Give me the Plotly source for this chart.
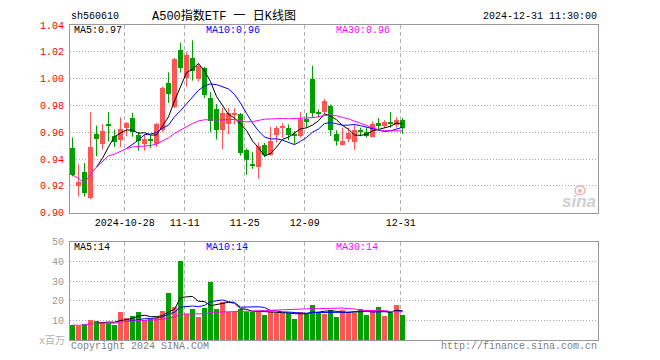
import numpy as np
import pandas as pd
import plotly.graph_objects as go

# ---------------- data ----------------
dates = [d.strftime("%Y-%m-%d") for d in pd.bdate_range("2024-10-15", "2024-12-31")]

open_ = [0.948, 0.920, 0.930, 0.911, 0.959, 0.951, 0.9658, 0.957, 0.9545, 0.963,
         0.9707, 0.9577, 0.951, 0.9545, 0.951, 0.962, 0.9965, 0.979, 1.0216, 1.0008,
         1.0157, 1.000, 1.0076, 0.9855, 0.9774, 0.9614, 0.9658, 0.9735, 0.9737, 0.9467,
         0.9355, 0.9339, 0.9508, 0.943, 0.958, 0.9634, 0.9628, 0.9577, 0.9575, 0.9698,
         0.9997, 0.9744, 0.9753, 0.9794, 0.9584, 0.9502, 0.9548, 0.9525, 0.9605, 0.9602,
         0.9565, 0.9666, 0.9646, 0.9672, 0.9652, 0.969]
high = [0.956, 0.936, 0.937, 0.975, 0.965, 0.966, 0.975, 0.962, 0.971, 0.9676,
        0.9744, 0.9602, 0.9585, 0.958, 0.967, 0.9941, 1.0047, 1.0155, 1.0268, 1.020,
        1.0285, 1.0118, 1.0088, 0.990, 0.981, 0.978, 0.978, 0.978, 0.9744, 0.9479,
        0.945, 0.9523, 0.952, 0.9641, 0.9646, 0.967, 0.9658, 0.961, 0.975, 0.9744,
        1.0096, 0.9769, 0.985, 0.9806, 0.9614, 0.9634, 0.9634, 0.9654, 0.9634, 0.9634,
        0.968, 0.9707, 0.969, 0.975, 0.9712, 0.9707]
low = [0.927, 0.912, 0.912, 0.910, 0.942, 0.947, 0.953, 0.949, 0.949, 0.957,
       0.9567, 0.9462, 0.9462, 0.948, 0.949, 0.960, 0.9818, 0.978, 1.0044, 0.994,
       0.9985, 0.9978, 0.9855, 0.960, 0.9545, 0.9474, 0.9584, 0.9658, 0.9425, 0.9282,
       0.9326, 0.9253, 0.9413, 0.9425, 0.9523, 0.956, 0.954, 0.951, 0.956, 0.9634,
       0.9707, 0.9707, 0.9732, 0.9573, 0.950, 0.950, 0.9526, 0.9467, 0.957, 0.956,
       0.956, 0.961, 0.9634, 0.9634, 0.9634, 0.9588]
close = [0.928, 0.923, 0.915, 0.949, 0.955, 0.961, 0.9652, 0.953, 0.9626, 0.9666,
         0.9602, 0.9536, 0.9553, 0.954, 0.9663, 0.9929, 0.9887, 1.015, 1.008, 1.0174,
         1.006, 1.0095, 0.988, 0.9683, 0.9614, 0.9747, 0.9744, 0.9744, 0.9442, 0.9393,
         0.9349, 0.9499, 0.943, 0.9531, 0.9634, 0.964, 0.9582, 0.9573, 0.9695, 0.9673,
         0.9744, 0.974, 0.9832, 0.9614, 0.9536, 0.9531, 0.9594, 0.962, 0.9602, 0.957,
         0.9665, 0.9646, 0.9673, 0.9667, 0.9692, 0.9632]
volume = [7.6, 7.3, 8.3, 10, 9.5, 9.3, 8.7, 7.9, 14.5, 11.4,
          12.5, 14.5, 10.3, 10.8, 11.5, 15, 24, 17, 40.5, 13.5,
          16, 11.6, 16.6, 29.7, 16, 19.3, 14.5, 14.3, 15.8, 14.3,
          14.2, 14.7, 13, 14.5, 13.7, 13.9, 14, 10.9, 14.5, 13.2,
          18, 14.4, 13.3, 15.5, 12, 15.5, 14.3, 14, 16, 13,
          14.5, 16.8, 12.5, 14.2, 18, 13]

tick_dates = ["2024-10-28", "2024-11-11", "2024-11-25", "2024-12-09", "2024-12-31"]
tick_labels = ["2024-10-28", "11-11", "11-25", "12-09", "12-31"]
price_ticks = [0.90, 0.92, 0.94, 0.96, 0.98, 1.00, 1.02, 1.04]
vol_ticks = [10, 20, 30, 40, 50]

# ---------------- derived ----------------
n = len(dates)
x = np.arange(n)
O = np.array(open_); H = np.array(high); L = np.array(low); C = np.array(close)
V = np.array(volume)
up = C >= O

cs = pd.Series(C)
ma5 = cs.rolling(5).mean()
ma10 = cs.rolling(10).mean()
ma30 = cs.rolling(30, min_periods=1).mean()
vs = pd.Series(V)
vma5 = vs.rolling(5).mean()
vma10 = vs.rolling(10).mean()
vma30 = vs.rolling(30, min_periods=1).mean()

RED = "#ff5555"
GREEN = "#00a000"

fig = go.Figure()

# wicks
for mask, col in ((up, RED), (~up, GREEN)):
    wx, wy = [], []
    for i in x[mask]:
        wx += [i, i, None]
        wy += [L[i], H[i], None]
    fig.add_trace(go.Scatter(x=wx, y=wy, mode="lines", line=dict(color=col, width=1),
                             hoverinfo="skip", xaxis="x", yaxis="y"))

# bodies
base = np.minimum(O, C)
height = np.maximum(np.abs(C - O), 0.0008)
for mask, col in ((up, RED), (~up, GREEN)):
    fig.add_trace(go.Bar(x=x[mask], y=height[mask], base=base[mask], width=0.83,
                         marker=dict(color=col, line=dict(width=0)),
                         xaxis="x", yaxis="y"))

# price MAs
for s, col in ((ma5, "#000000"), (ma10, "#0000ff"), (ma30, "#ff00ff")):
    fig.add_trace(go.Scatter(x=x, y=s, mode="lines", line=dict(color=col, width=1),
                             xaxis="x", yaxis="y"))

# volume bars
fig.add_trace(go.Bar(x=x, y=V, width=0.83,
                     marker=dict(color=[RED if u else GREEN for u in up], line=dict(width=0)),
                     xaxis="x2", yaxis="y2"))
for s, col in ((vma5, "#000000"), (vma10, "#0000ff"), (vma30, "#ff00ff")):
    fig.add_trace(go.Scatter(x=x, y=s, mode="lines", line=dict(color=col, width=1),
                             xaxis="x2", yaxis="y2"))

# ---------------- layout ----------------
# page has an 8px body margin: figure is sized/offset to compensate
OFF = 8
W, Hh = 660 - OFF, 360 - OFF
PL, PR, PT, PB = 70, 598, 21, 340          # plot area in page pixels
ML, MR, MT, MB = PL - OFF, W - (PR - OFF), PT - OFF, Hh - (PB - OFF)
PW = PR - PL
PH = PB - PT
xr = [-2.5 / 6, -2.5 / 6 + PW / 6]
tickpos = [dates.index(d) - 0.3 for d in tick_dates]

axis_common = dict(showline=True, mirror=True, linecolor="#999999", linewidth=1,
                   zeroline=False, ticks="", fixedrange=True)
fig.update_layout(
    width=W, height=Hh, margin=dict(l=ML, r=MR, t=MT, b=MB, pad=0),
    paper_bgcolor="white", plot_bgcolor="white", showlegend=False,
    barmode="overlay", bargap=0,
    font=dict(family="Liberation Mono, Noto Sans CJK SC", size=10, color="#000"),
    xaxis=dict(domain=[0, 1], range=xr, anchor="y", tickvals=tickpos, ticktext=tick_labels,
               showgrid=True, gridcolor="#b0b0b0", griddash="4px,3px", gridwidth=1,
               tickfont=dict(size=10, color="#000"), **axis_common),
    xaxis2=dict(domain=[0, 1], range=xr, anchor="y2", tickvals=tickpos, showticklabels=False,
                showgrid=True, gridcolor="#b0b0b0", griddash="4px,3px", gridwidth=1,
                **axis_common),
    yaxis=dict(domain=[(PB - 211) / PH, 1], range=[0.90, 1.04], tickvals=price_ticks,
               ticktext=[f"{v:.2f}" for v in price_ticks],
               showgrid=True, gridcolor="#aaaaaa", griddash="1px,2px", gridwidth=1,
               tickfont=dict(size=10, color="#ff0000"), ticklabelstandoff=3, **axis_common),
    yaxis2=dict(domain=[0, (PB - 240.7) / PH], range=[0, 50], tickvals=vol_ticks,
                ticktext=[str(v) for v in vol_ticks],
                showgrid=True, gridcolor="#aaaaaa", griddash="1px,2px", gridwidth=1,
                tickfont=dict(size=10, color="#999999"), ticklabelstandoff=3, **axis_common),
)


def px2paper(px, py):
    return (px - PL) / PW, (PB - py) / PH


def ann(px, py, text, color="#000", xanchor="left", size=10, family=None):
    f = dict(size=size, color=color)
    if family:
        f["family"] = family
    xp, yp = px2paper(px, py)
    fig.add_annotation(x=xp, y=yp, xref="paper", yref="paper",
                       text=text, showarrow=False, xanchor=xanchor, yanchor="middle",
                       font=f, borderpad=0)


ann(70, 12, "sh560610")
ann(224, 12, "A500指数ETF 一 日K线图", xanchor="center", size=12)
ann(598, 12, "2024-12-31 11:30:00", xanchor="right")

ann(73, 27, f"MA5:{ma5.iloc[-1]:.2f}", "#000000")
ann(205, 27, f"MA10:{ma10.iloc[-1]:.2f}", "#0000ff")
ann(335, 27, f"MA30:{ma30.iloc[-1]:.2f}", "#ff00ff")

ann(73, 246, f"MA5:{int(vma5.iloc[-1])}", "#000000")
ann(205, 246, f"MA10:{int(vma10.iloc[-1])}", "#0000ff")
ann(335, 246, f"MA30:{int(vma30.iloc[-1])}", "#ff00ff")

ann(66, 341, "x百万", "#b0b0b0", xanchor="right")
ann(70, 347, "Copyright 2024 SINA.COM", "#808080")
ann(598, 347, "http://finance.sina.com.cn", "#808080", xanchor="right")
ann(597, 200, "<b><i>sina</i></b>", "#cfcfcf", xanchor="right", size=17,
    family="Liberation Sans")

# small pink "eye" mark of the sina watermark (drawn as shapes, not text)
x0, y0 = px2paper(575, 184)
x1, y1 = px2paper(585, 193)
fig.add_shape(type="circle", xref="paper", yref="paper", x0=x0, y0=y1, x1=x1, y1=y0,
              line=dict(color="#f2b0b0", width=1.5), fillcolor="rgba(0,0,0,0)")
x0, y0 = px2paper(578, 187)
x1, y1 = px2paper(582, 191)
fig.add_shape(type="circle", xref="paper", yref="paper", x0=x0, y0=y1, x1=x1, y1=y0,
              line=dict(width=0), fillcolor="#f2b0b0")

fig.write_html("out.html")
